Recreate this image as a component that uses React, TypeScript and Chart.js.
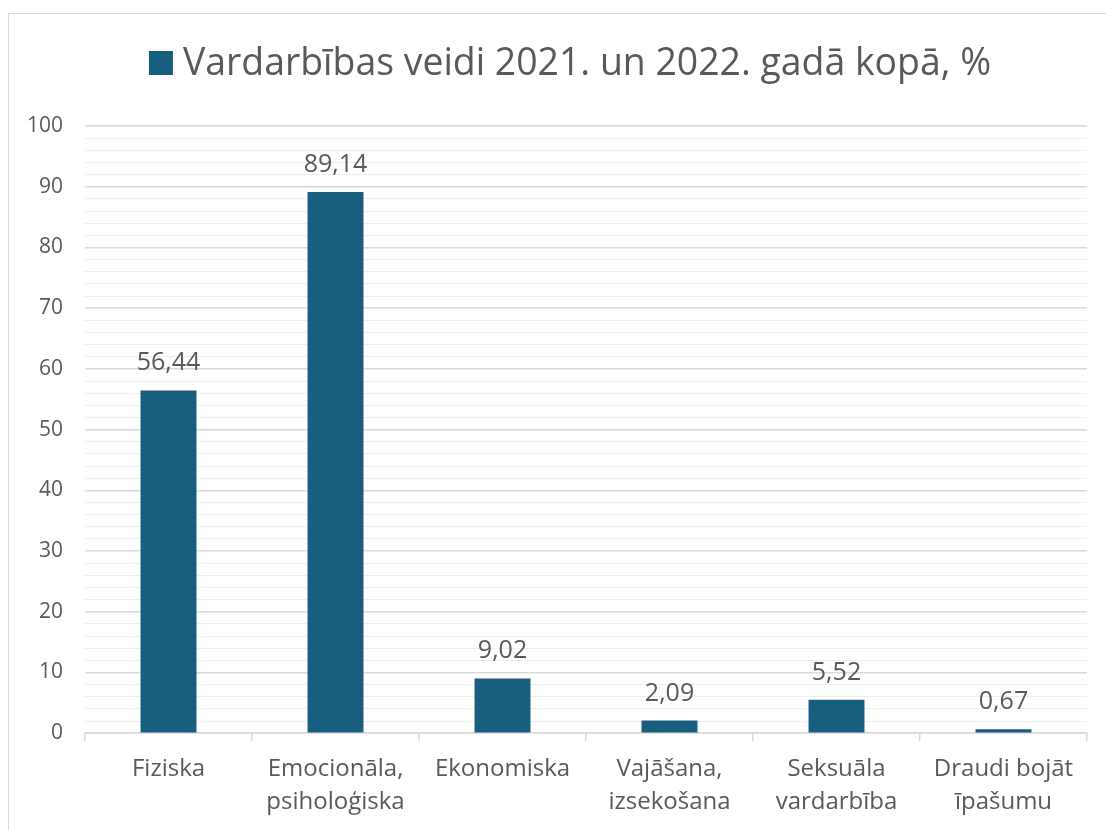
import React, { useEffect, useRef } from "react";
import { Chart, registerables } from "chart.js";

Chart.register(...registerables);

const categories: string[][] = [
  ["Fiziska"],
  ["Emocionāla,", "psiholoģiska"],
  ["Ekonomiska"],
  ["Vajāšana,", "izsekošana"],
  ["Seksuāla", "vardarbība"],
  ["Draudi bojāt", "īpašumu"],
];
const values: number[] = [56.44, 89.14, 9.02, 2.09, 5.52, 0.67];
const seriesName = "Vardarbības veidi 2021. un 2022. gadā kopā, %";
const barColor = "#175e7f";
const textColor = "#595959";
const FONT = "'Open Sans', 'Noto Sans', sans-serif";

const titlePlugin = {
  id: "legendTitle",
  afterDraw(chart: any) {
    const ctx = chart.ctx;
    ctx.save();
    ctx.font = `37.4px ${FONT}`;
    const tw = ctx.measureText(seriesName).width;
    const box = 24;
    const gap = 10;
    const total = box + gap + tw;
    const cx = 570;
    const x0 = cx - total / 2;
    const cy = 63;
    ctx.fillStyle = barColor;
    ctx.fillRect(x0, cy - box / 2, box, box);
    ctx.fillStyle = textColor;
    ctx.textBaseline = "middle";
    ctx.textAlign = "left";
    ctx.fillText(seriesName, x0 + box + gap, cy + 1);
    ctx.restore();
  },
};

const labelPlugin = {
  id: "valueLabels",
  afterDatasetsDraw(chart: any) {
    const ctx = chart.ctx;
    const meta = chart.getDatasetMeta(0);
    ctx.save();
    ctx.font = `25px ${FONT}`;
    ctx.fillStyle = textColor;
    ctx.textAlign = "center";
    ctx.textBaseline = "alphabetic";
    meta.data.forEach((bar: any, i: number) => {
      const txt = values[i].toFixed(2).replace(".", ",");
      ctx.fillText(txt, bar.x, bar.y - 20);
    });
    ctx.restore();
  },
};

export default function App() {
  const ref = useRef<HTMLCanvasElement>(null);
  useEffect(() => {
    if (!ref.current) return;
    const chart = new Chart(ref.current, {
      type: "bar",
      data: {
        labels: categories,
        datasets: [
          {
            label: seriesName,
            data: values,
            backgroundColor: barColor,
            barPercentage: 0.335,
            categoryPercentage: 1,
          },
        ],
      },
      options: {
        animation: false,
        responsive: false,
        maintainAspectRatio: false,
        layout: { padding: { top: 126, right: 19, bottom: 0, left: 5 } },
        plugins: {
          legend: { display: false },
          tooltip: { enabled: false },
        },
        scales: {
          x: {
            offset: true,
            grid: {
              offset: true,
              drawOnChartArea: false,
              drawTicks: true,
              tickLength: 8,
              color: "#d9d9d9",
              lineWidth: 1.5,
            },
            border: { display: true, color: "#d9d9d9", width: 1.5 },
            ticks: {
              color: textColor,
              font: { family: FONT, size: 24, lineHeight: 1.35 },
              padding: 12,
              maxRotation: 0,
              autoSkip: false,
            },
          },
          y: {
            min: 0,
            max: 100,
            border: { display: false },
            grid: {
              drawTicks: false,
              color: (c: any) => (c.tick && c.tick.value % 10 === 0 ? "#d9d9d9" : "#eeeeee"),
              lineWidth: (c: any) => (c.tick && c.tick.value % 10 === 0 ? 1.5 : 1),
            },
            ticks: {
              stepSize: 2,
              autoSkip: false,
              color: textColor,
              font: { family: FONT, size: 21 },
              padding: 22,
              callback: (v: any) => (Number(v) % 10 === 0 ? String(v) : ""),
            },
          },
        },
      },
      plugins: [titlePlugin, labelPlugin],
    });
    return () => chart.destroy();
  }, []);
  return (
    <div style={{ position: "fixed", left: 0, top: 0, width: 1106, height: 830, background: "#fff", overflow: "hidden" }}>
      <div style={{ position: "absolute", left: 8, top: 13, width: 1120, height: 840, border: "1.5px solid #d9d9d9" }} />
      <canvas ref={ref} width={1106} height={830} style={{ position: "absolute", left: 0, top: 0 }} />
    </div>
  );
}
